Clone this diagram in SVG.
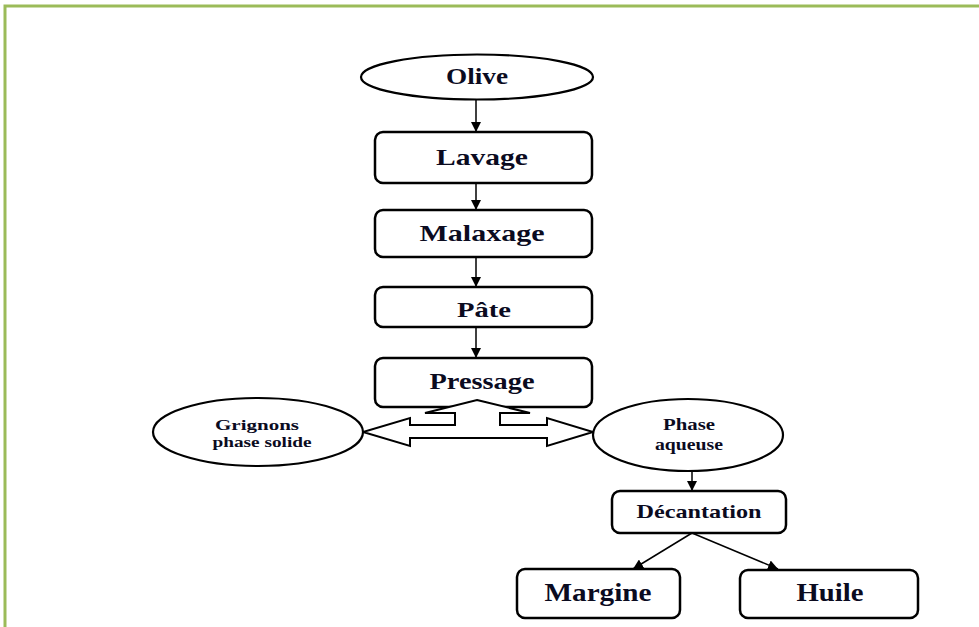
<svg xmlns="http://www.w3.org/2000/svg" width="979" height="627" viewBox="0 0 979 627">
<defs>
<marker id="ah" viewBox="0 0 10 10" refX="10" refY="5" markerWidth="10" markerHeight="10" markerUnits="userSpaceOnUse" orient="auto">
<path d="M0,0 L10,5 L0,10 Z" fill="#000"/>
</marker>
<style>
.box{fill:#fff;stroke:#000;stroke-width:2.5}
.ell{fill:#fff;stroke:#000;stroke-width:2.2}
.t{font-family:"Liberation Serif","Times New Roman",serif;font-weight:bold;fill:#0b0b1f;text-anchor:middle}
.c{stroke:#000;stroke-width:1.5;fill:none;marker-end:url(#ah)}
.frame{stroke:#9bbb59;stroke-width:3;fill:none}
</style>
</defs>
<rect width="979" height="627" fill="#fff"/>
<path class="frame" d="M5,627 L5,6 L979,6"/>
<g id="connectors">
<line class="c" x1="476" y1="100" x2="476" y2="132"/>
<line class="c" x1="476" y1="183" x2="476" y2="210"/>
<line class="c" x1="476" y1="257" x2="476" y2="287"/>
<line class="c" x1="476" y1="327" x2="476" y2="358"/>
<line class="c" x1="692" y1="471" x2="692" y2="491"/>
<line class="c" x1="692" y1="533" x2="633" y2="569"/>
<line class="c" x1="692" y1="533" x2="778" y2="569"/>
</g>
<g id="olive">
<ellipse class="ell" cx="477" cy="77" rx="116" ry="22.5"/>
<text class="t" x="477" y="84" font-size="23" textLength="62" lengthAdjust="spacingAndGlyphs">Olive</text>
</g>
<g id="lavage">
<rect class="box" x="375" y="132" width="217" height="51" rx="8"/>
<text class="t" x="482" y="165" font-size="23" textLength="92" lengthAdjust="spacingAndGlyphs">Lavage</text>
</g>
<g id="malaxage">
<rect class="box" x="375" y="210" width="217" height="47" rx="8"/>
<text class="t" x="482" y="241" font-size="23" textLength="125" lengthAdjust="spacingAndGlyphs">Malaxage</text>
</g>
<g id="pate">
<rect class="box" x="375" y="287" width="217" height="40" rx="8"/>
<text class="t" x="484" y="317" font-size="22" textLength="54" lengthAdjust="spacingAndGlyphs">Pâte</text>
</g>
<g id="pressage">
<rect class="box" x="375" y="358" width="217" height="49" rx="8"/>
<text class="t" x="482" y="389" font-size="23" textLength="105" lengthAdjust="spacingAndGlyphs">Pressage</text>
</g>
<g id="split-arrow">
<path d="M477,400 L530,413 L500,413 L500,425 L547,425 L547,418 L593,432 L547,446 L547,438 L410,438 L410,446 L363,432 L410,418 L410,425 L455,425 L455,413 L425,413 Z" fill="#fff" stroke="#000" stroke-width="2" stroke-linejoin="miter"/>
</g>
<g id="grignons">
<ellipse class="ell" cx="258" cy="432" rx="105" ry="34"/>
<text class="t" x="257" y="430" font-size="15" textLength="84" lengthAdjust="spacingAndGlyphs">Grignons</text>
<text class="t" x="262" y="447" font-size="15" textLength="99" lengthAdjust="spacingAndGlyphs">phase solide</text>
</g>
<g id="phase-aqueuse">
<ellipse class="ell" cx="688" cy="435" rx="95" ry="36"/>
<text class="t" x="689" y="430" font-size="16" textLength="52" lengthAdjust="spacingAndGlyphs">Phase</text>
<text class="t" x="689" y="450" font-size="16" textLength="68" lengthAdjust="spacingAndGlyphs">aqueuse</text>
</g>
<g id="decantation">
<rect class="box" x="612" y="491" width="174" height="42" rx="8"/>
<text class="t" x="699" y="518" font-size="19" textLength="125" lengthAdjust="spacingAndGlyphs">Décantation</text>
</g>
<g id="margine">
<rect class="box" x="517" y="569" width="163" height="49" rx="8"/>
<text class="t" x="598" y="601" font-size="25" textLength="107" lengthAdjust="spacingAndGlyphs">Margine</text>
</g>
<g id="huile">
<rect class="box" x="740" y="570" width="178" height="48" rx="8"/>
<text class="t" x="830" y="601" font-size="25" textLength="67" lengthAdjust="spacingAndGlyphs">Huile</text>
</g>
</svg>
